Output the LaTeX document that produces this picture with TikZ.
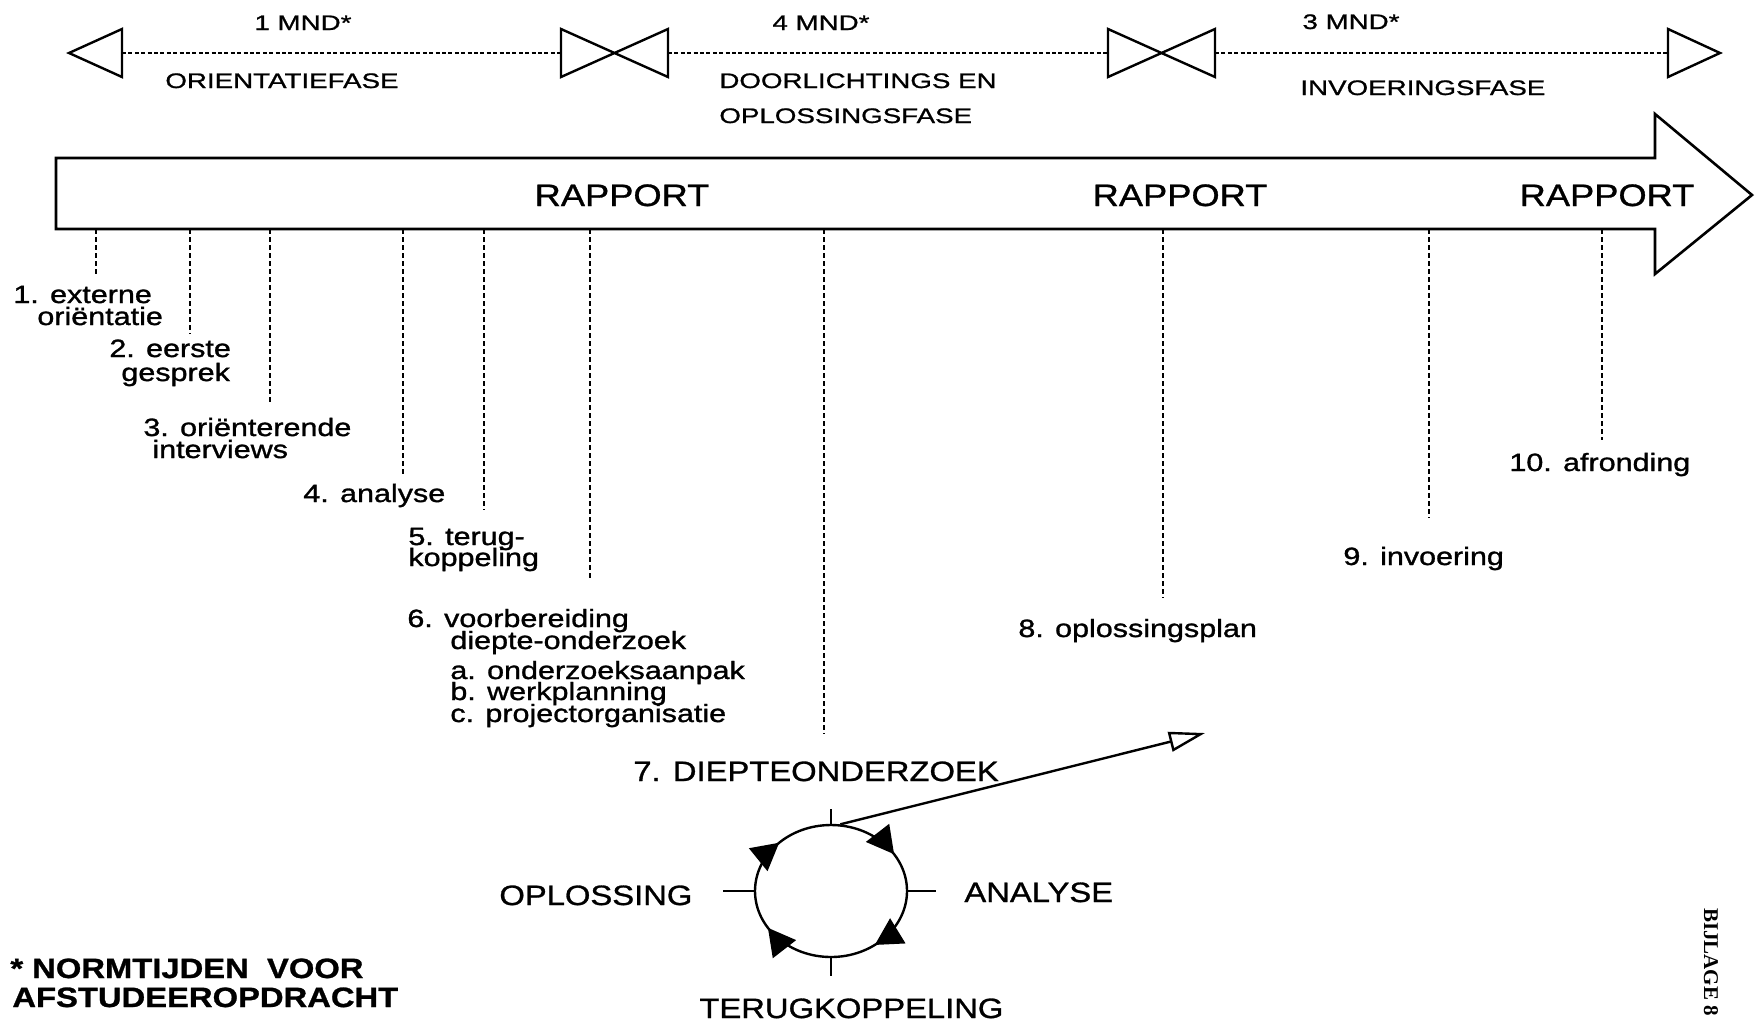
\documentclass[tikz,border=0pt]{standalone}
\usepackage{fontspec}
\setmainfont{Liberation Sans}
\newfontfamily\fU[FakeStretch=1.32,FakeBold=1]{Liberation Sans}
\newfontfamily\fL[FakeStretch=1.22,FakeBold=1.2]{Liberation Sans}
\newfontfamily\fC[FakeStretch=1.17,FakeBold=1]{Liberation Sans}
\newfontfamily\fS{Liberation Serif}
\usetikzlibrary{arrows.meta,shapes.geometric,decorations.markings}
\begin{document}
\begin{tikzpicture}[x=0.5pt,y=-0.5pt,
  upl/.style={inner sep=0, anchor=base, font=\fU\fontsize{10.5pt}{12pt}\selectfont},
  upw/.style={inner sep=0, anchor=base west, font=\fU\fontsize{10.5pt}{12pt}\selectfont},
  lab/.style={inner sep=0, anchor=base west, font=\fL\fontsize{12.5pt}{11pt}\selectfont},
  caplab/.style={inner sep=0, anchor=base west, font=\fC\fontsize{14pt}{16pt}\selectfont},
  foot/.style={inner sep=0, anchor=base west, font=\fC\bfseries\fontsize{14pt}{16pt}\selectfont},
  rap/.style={inner sep=0, anchor=base, font=\fC\fontsize{15.5pt}{18pt}\selectfont},
  tri/.style={line width=1.2pt, line join=miter},
  dotl/.style={line width=1.1pt, dash pattern=on 2pt off 1.2pt},
  tickl/.style={line width=1.2pt, dash pattern=on 2.5pt off 1.5pt},
  sol/.style={line width=1.2pt}
]
\fill[white] (0,0) rectangle (1755,1023);
\useasboundingbox (0,0) rectangle (1755,1023);

% ---- top time line ----
\coordinate (t0a) at (122,53);
\coordinate (t1a) at (561,53);
\coordinate (t1b) at (668,53);
\coordinate (t2a) at (1108,53);
\coordinate (t2b) at (1215,53);
\coordinate (t3a) at (1668,53);
\draw[tri] (69,53) -- (122,29) -- (122,77) -- cycle;
\draw[tri] (561,29) -- (561,77) -- (668,29) -- (668,77) -- cycle;
\draw[tri] (1108,29) -- (1108,77) -- (1215,29) -- (1215,77) -- cycle;
\draw[tri] (1720,53) -- (1668,29) -- (1668,77) -- cycle;
\draw[dotl] (t0a) -- (t1a);
\draw[dotl] (t1b) -- (t2a);
\draw[dotl] (t2b) -- (t3a);

\node[upl] (m1) at (303,30) {1 MND*};
\node[upl] (m4) at (821,30) {4 MND*};
\node[upl] (m3) at (1351,29) {3 MND*};
\node[upw] (p1) at (165,88) {ORIENTATIEFASE};
\node[upw] (p2a) at (719,88) {DOORLICHTINGS EN};
\node[upw] (p2b) at (719,123) {OPLOSSINGSFASE};
\node[upw] (p3) at (1300,95) {INVOERINGSFASE};

% ---- big arrow ----
\draw[line width=1.3pt, line join=miter]
  (56,158) -- (1655,158) -- (1655,114) -- (1752,195) -- (1655,274)
  -- (1655,229) -- (56,229) -- cycle;
\node[rap] (r1) at (622,206) {RAPPORT};
\node[rap] (r2) at (1180,206) {RAPPORT};
\node[rap] (r3) at (1607,206) {RAPPORT};

% ---- dashed ticks ----
\foreach \i/\x/\y in {1/96/275, 2/190/334, 3/270/405, 4/403/475, 5/484/510,
                      6/590/580, 7/824/734, 8/1163/598, 9/1429/518, 10/1602/440}{
  \coordinate (ta\i) at (\x,229);
  \coordinate (tb\i) at (\x,\y);
  \draw[tickl] (ta\i) -- (tb\i);
}

% ---- step labels ----
\node[lab] (l1a) at (13,303) {1. externe};
\node[lab] (l1b) at (37,325) {oriëntatie};
\node[lab] (l2a) at (109,357) {2. eerste};
\node[lab] (l2b) at (121,381) {gesprek};
\node[lab] (l3a) at (143,436) {3. oriënterende};
\node[lab] (l3b) at (152,458) {interviews};
\node[lab] (l4) at (303,502) {4. analyse};
\node[lab] (l5a) at (408,545) {5. terug-};
\node[lab] (l5b) at (408,566) {koppeling};
\node[lab] (l6a) at (407,627) {6. voorbereiding};
\node[lab] (l6b) at (450,649) {diepte-onderzoek};
\node[lab] (l6c) at (450,679) {a. onderzoeksaanpak};
\node[lab] (l6d) at (450,700) {b. werkplanning};
\node[lab] (l6e) at (450,722) {c. projectorganisatie};
\node[lab] (l8) at (1018,637) {8. oplossingsplan};
\node[lab] (l9) at (1343,565) {9. invoering};
\node[lab] (l10) at (1509,471) {10. afronding};

% ---- cycle ----
\node[caplab] (d7) at (633,781) {7. DIEPTEONDERZOEK};
\node[draw, ellipse, line width=1.2pt, inner sep=0, minimum width=76pt, minimum height=66pt,
  postaction={decorate, decoration={markings,
    mark=at position 0.089 with {\arrowreversed{Triangle[length=13.5pt,width=14.5pt]}},
    mark=at position 0.375 with {\arrowreversed{Triangle[length=13.5pt,width=14.5pt]}},
    mark=at position 0.589 with {\arrowreversed{Triangle[length=13.5pt,width=14.5pt]}},
    mark=at position 0.853 with {\arrowreversed{Triangle[length=13.5pt,width=14.5pt]}}}}]
  (cyc) at (831,891) {};
\draw[sol] (cyc.north) -- ++(0,-15);
\draw[sol] (cyc.south) -- ++(0,18);
\draw[sol] (cyc.west) -- ++(-31,0);
\draw[sol] (cyc.east) -- ++(28,0);
\coordinate (atip) at (1205,733);
\draw[sol, -{Triangle[open,length=18pt,width=10pt]}] (cyc.82) -- (atip);
\node[caplab] (op) at (499,905) {OPLOSSING};
\node[caplab] (an) at (964,902) {ANALYSE};
\node[caplab] (tk) at (699,1018) {TERUGKOPPELING};

% ---- footnote ----
\node[foot] (f1) at (10,978) {* NORMTIJDEN\ \ VOOR};
\node[foot] (f2) at (12,1007) {AFSTUDEEROPDRACHT};

\node[rotate=-90, inner sep=0, font=\fS\bfseries\fontsize{10.5pt}{12pt}\selectfont] (bij) at (1711,962) {BIJLAGE 8};
\end{tikzpicture}
\end{document}
